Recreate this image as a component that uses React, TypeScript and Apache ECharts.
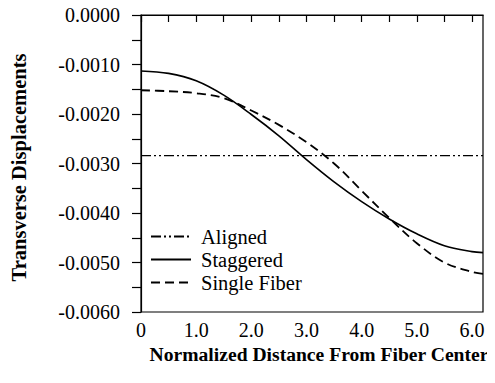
import React, { useEffect, useRef } from "react";
import * as echarts from "echarts";

const xValues = [0, 0.5, 1.0, 1.5, 2.0, 2.5, 3.0, 3.5, 4.0, 4.5, 5.0, 5.5, 6.0, 6.2];
const staggered = [-0.00113, -0.00118, -0.00133, -0.00162, -0.00201, -0.00244, -0.00292, -0.00337, -0.00377, -0.00412, -0.00442, -0.00466, -0.00478, -0.0048];
const singleFiber = [-0.00152, -0.00154, -0.00158, -0.00168, -0.00193, -0.00222, -0.00257, -0.003, -0.00355, -0.0041, -0.00461, -0.005, -0.00519, -0.00523];
const alignedValue = -0.00284;
const xTickValues = [0, 0.5, 1, 1.5, 2, 2.5, 3, 3.5, 4, 4.5, 5, 5.5, 6];
const xLabelValues = [0, 1, 2, 3, 4, 5, 6];
const seriesNames = ["Aligned", "Staggered", "Single Fiber"];

const FONT = "Liberation Serif";

export default function App() {
  const ref = useRef<HTMLDivElement>(null);
  useEffect(() => {
    if (!ref.current) return;
    const chart = echarts.init(ref.current, null, { renderer: "svg" });
    const pair = (ys: number[]) => xValues.map((x, i) => [x, ys[i]]);
    chart.setOption({
      animation: false,
      backgroundColor: "#fff",
      color: ["#000", "#000", "#000"],
      textStyle: { fontFamily: FONT, color: "#000" },
      grid: {
        left: 138,
        right: 12,
        top: 15,
        bottom: 71,
        show: true,
        borderColor: "#000",
        borderWidth: 1.2,
        containLabel: false,
      },
      legend: {
        orient: "vertical",
        left: 145,
        top: 221,
        itemWidth: 40,
        itemHeight: 14,
        itemGap: 2,
        data: seriesNames,
        itemStyle: { opacity: 0 },
        textStyle: { fontFamily: FONT, fontSize: 20.5, color: "#000", padding: [0, 0, 0, 5] },
      },
      xAxis: {
        type: "value",
        min: 0,
        max: 6.2,
        name: "Normalized Distance From Fiber Center",
        nameLocation: "middle",
        nameGap: 31,
        nameTextStyle: { fontFamily: FONT, fontSize: 19.6, fontWeight: "bold", color: "#000", padding: [0, 0, 0, 14] },
        axisLine: { lineStyle: { color: "#000", width: 1.2 } },
        axisTick: { customValues: xTickValues, length: 7, lineStyle: { color: "#000", width: 1.2 } },
        axisLabel: {
          customValues: xLabelValues,
          fontFamily: FONT,
          fontSize: 20,
          color: "#000",
          margin: 8,
          formatter: (v: number) => (v === 0 ? "0" : v.toFixed(1)),
        },
        splitLine: { show: false },
      },
      yAxis: {
        type: "value",
        min: -0.006,
        max: 0,
        interval: 0.001,
        name: "Transverse Displacements",
        nameLocation: "middle",
        nameGap: 112,
        nameTextStyle: { fontFamily: FONT, fontSize: 20.5, fontWeight: "bold", color: "#000", padding: [0, 8, 0, 0] },
        axisLine: { lineStyle: { color: "#000", width: 1.2 } },
        axisTick: { length: 9, lineStyle: { color: "#000", width: 1.2 } },
        minorTick: { show: true, splitNumber: 2, length: 9, lineStyle: { color: "#000", width: 1.2 } },
        axisLabel: {
          fontFamily: FONT,
          fontSize: 20,
          color: "#000",
          margin: 21,
          formatter: (v: number) => (Math.abs(v) < 1e-12 ? "0.0000" : v.toFixed(4)),
        },
        splitLine: { show: false },
      },
      series: [
        {
          name: "Aligned",
          type: "line",
          symbol: "none",
          data: [
            [0, alignedValue],
            [6.2, alignedValue],
          ],
          itemStyle: { color: "#000" },
          lineStyle: { color: "#000", width: 1.2, type: [10, 3, 2, 3, 2, 3] },
        },
        {
          name: "Staggered",
          type: "line",
          symbol: "none",
          smooth: 0.35,
          data: pair(staggered),
          itemStyle: { color: "#000" },
          lineStyle: { color: "#000", width: 1.6, type: "solid" },
        },
        {
          name: "Single Fiber",
          type: "line",
          symbol: "none",
          smooth: 0.35,
          data: pair(singleFiber),
          itemStyle: { color: "#000" },
          lineStyle: { color: "#000", width: 1.8, type: [9, 5] },
        },
      ],
    });
    return () => chart.dispose();
  }, []);
  return <div ref={ref} style={{ width: 495, height: 383, margin: -8 }} />;
}
